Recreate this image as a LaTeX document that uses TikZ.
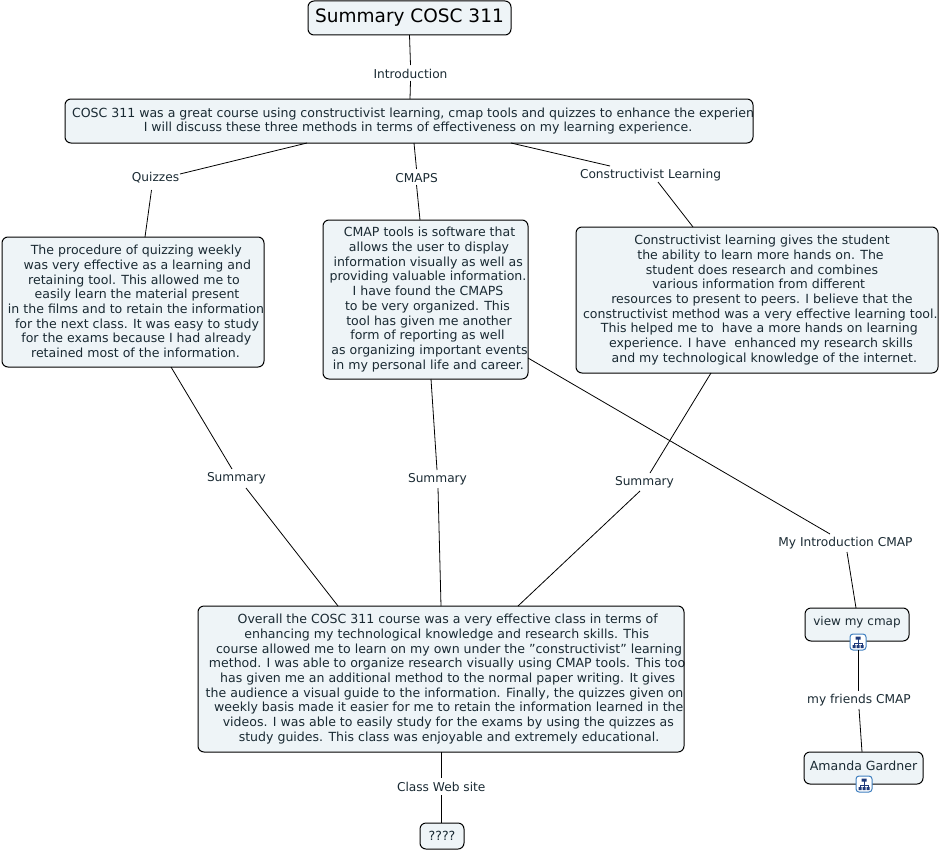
\documentclass[tikz,border=0pt]{standalone}
\usepackage{fontspec}
\setmainfont{DejaVu Sans}
\definecolor{boxfill}{HTML}{EEF4F7}
\definecolor{inkc}{HTML}{1A2A33}
\definecolor{iconb}{HTML}{3F7FBF}
\definecolor{iconn}{HTML}{1F3A7A}
\tikzset{
  cbox/.style={draw=black,fill=boxfill,rounded corners=6pt,line width=1pt,inner sep=0pt,outer sep=0pt},
  body/.style={text=inkc,font=\fontsize{12.55}{14.7}\selectfont,align=center,inner sep=0pt,outer sep=0pt,anchor=center},
  labt/.style={text=inkc,font=\fontsize{12.2}{14.6}\selectfont,inner sep=0pt,outer sep=0pt,anchor=west},
  labbox/.style={inner sep=0pt,outer sep=0pt,minimum height=16pt},
  conn/.style={line width=0.8pt,black},
  iconbox/.style={draw=iconb,fill=white,rounded corners=3pt,line width=1pt,minimum size=16pt,inner sep=0pt,outer sep=0pt},
}
\newcommand\off[1]{\hspace*{\dimexpr 2\dimexpr #1pt\relax\relax}}
% name, cx, cy, w, h, text dy(page up), dx, text
\newcommand\cbx[8]{\node[cbox,minimum width=#4pt,minimum height=#5pt,path picture={\node[body] at ([xshift=#7pt,yshift=#6pt]path picture bounding box.center) {#8};}] (#1) at (#2,#3) {};}
% name, cx, cy, w, text
\newcommand\lab[5]{\node[labbox,minimum width=#4pt,path picture={\node[labt] at ([yshift=-1pt]path picture bounding box.west) {#5};}] (#1) at (#2,#3) {};}
\newcommand\hierglyph[1]{\node[iconbox] (#1) at (\iconx,\icony) {};
  \draw[iconn,line width=0.9pt] ([yshift=4pt]#1.center) -- ([yshift=-4pt]#1.center)
    ([xshift=-4pt,yshift=-1pt]#1.center) -- ([xshift=4pt,yshift=-1pt]#1.center)
    ([xshift=-4pt,yshift=-1pt]#1.center) -- ([xshift=-4pt,yshift=-4pt]#1.center)
    ([xshift=4pt,yshift=-1pt]#1.center) -- ([xshift=4pt,yshift=-4pt]#1.center);
  \fill[iconn] ([xshift=-2.5pt,yshift=2.5pt]#1.center) rectangle ([xshift=2.5pt,yshift=5.5pt]#1.center)
    ([xshift=-5.5pt,yshift=-6pt]#1.center) rectangle ([xshift=-2.5pt,yshift=-3pt]#1.center)
    ([xshift=-1.5pt,yshift=-6pt]#1.center) rectangle ([xshift=1.5pt,yshift=-3pt]#1.center)
    ([xshift=2.5pt,yshift=-6pt]#1.center) rectangle ([xshift=5.5pt,yshift=-3pt]#1.center);}
\begin{document}
\begin{tikzpicture}[x=1pt,y=-1pt]
\useasboundingbox (0,0) rectangle (939,851);
\node[cbox,minimum width=203pt,minimum height=34pt] (title) at (409.5,18) {\fontsize{18.5}{20}\selectfont\color{black}Summary COSC 311};
\cbx{intro}{409}{121}{688}{44}{0}{0}{\makebox[674pt][l]{COSC 311 was a great course using constructivist learning, cmap tools and quizzes to enhance the experience.}\\\off{9}I will discuss these three methods in terms of effectiveness on my learning experience.}
\cbx{quiz}{133}{302}{262}{130}{0.5}{0}{\off{3.3}The procedure of quizzing weekly\\\off{4.3}was very effective as a learning and\\\off{1}retaining tool. This allowed me to\\\off{4}easily learn the material present\\\off{3}in the films and to retain the information\\\off{4}for the next class. It was easy to study\\\off{3.3}for the exams because I had already\\\off{2.5}retained most of the information.}
\cbx{cmap}{425.5}{299.5}{205}{159}{0}{0}{\off{4}CMAP tools is software that\\\off{3.5}allows the user to display\\\off{2.7}information visually as well as\\\off{2.5}providing valuable information.\\\off{2.5}I have found the CMAPS\\\off{2}to be very organized. This\\\off{3.5}tool has given me another\\\off{2}form of reporting as well\\\off{4}as organizing important events\\\off{2.8}in my personal life and career.}
\cbx{cons}{757}{300}{362}{146}{0}{0}{\off{5}Constructivist learning gives the student\\\off{3.5}the ability to learn more hands on. The\\\off{5}student does research and combines\\\off{1.7}various information from different\\\off{5}resources to present to peers. I believe that the\\\off{3.3}constructivist method was a very effective learning tool.\\\off{2.3}This helped me to\ \ have a more hands on learning\\\off{4}experience. I have\ \ enhanced my research skills\\\off{7.3}and my technological knowledge of the internet.}
\cbx{over}{441}{679}{486}{146}{0}{0}{\off{6.7}Overall the COSC 311 course was a very effective class in terms of\\\off{5.7}enhancing my technological knowledge and research skills. This\\\off{8}course allowed me to learn on my own under the "constructivist" learning\\\off{7.8}method. I was able to organize research visually using CMAP tools. This tool\\\off{6.7}has given me an additional method to the normal paper writing. It gives\\\off{9.4}the audience a visual guide to the information. Finally, the quizzes given on a\\\off{7.7}weekly basis made it easier for me to retain the information learned in the\\\off{7.3}videos. I was able to easily study for the exams by using the quizzes as\\\off{8}study guides. This class was enjoyable and extremely educational.}
\cbx{qq}{442}{836}{44}{26}{0}{0}{????}
\cbx{view}{857}{624.5}{104}{33}{2.5}{0}{\fontsize{12}{14}\selectfont view my cmap}
\cbx{amanda}{863.5}{768}{119}{32}{2.5}{0}{Amanda Gardner}
\def\iconx{858}\def\icony{642}\hierglyph{iconv}
\def\iconx{864}\def\icony{784}\hierglyph{icona}
\lab{lintro}{410.5}{73}{75}{Introduction}
\lab{lquiz}{155.5}{177}{49}{Quizzes}
\lab{lcmaps}{416.5}{177}{43}{CMAPS}
\lab{lcons}{650}{174}{140}{Constructivist Learning}
\lab{sa}{236}{477}{58}{Summary}
\lab{sb}{437}{478}{58}{Summary}
\lab{sc}{644}{481}{58}{Summary}
\lab{lmy}{845.5}{542}{135}{My Introduction CMAP}
\lab{lfr}{859}{699}{104}{my friends CMAP}
\lab{lweb}{441}{786}{88}{Class Web site}
\draw[conn] (title.south) -- (lintro.north);
\draw[conn] (lintro.south) -- ([xshift=1pt]intro.north);
\draw[conn] ([xshift=-102pt]intro.south) -- ([yshift=3pt]lquiz.east);
\draw[conn] ([xshift=-4pt,yshift=-5pt]lquiz.south) -- ([xshift=12pt]quiz.north);
\draw[conn] ([xshift=5pt]intro.south) -- (lcmaps.north);
\draw[conn] (lcmaps.south) -- ([xshift=-5.5pt]cmap.north);
\draw[conn] ([xshift=102pt]intro.south) -- ([xshift=-40pt]lcons.north);
\draw[conn] ([xshift=8pt]lcons.south) -- ([xshift=-64pt]cons.north);
\draw[conn] ([xshift=38pt]quiz.south) -- ([xshift=-4pt]sa.north);
\draw[conn] ([xshift=10pt,yshift=-3pt]sa.south) -- ([xshift=-103pt]over.north);
\draw[conn] ([xshift=5.5pt]cmap.south) -- (sb.north);
\draw[conn] ([xshift=1pt,yshift=-2pt]sb.south) -- (over.north);
\draw[conn] ([xshift=-46pt]cons.south) -- ([xshift=6pt]sc.north);
\draw[conn] ([xshift=-4pt,yshift=-2pt]sc.south) -- ([xshift=77pt]over.north);
\draw[conn] ([yshift=-58.5pt]cmap.east) -- ([xshift=-15.5pt]lmy.north);
\draw[conn] ([xshift=1.5pt,yshift=-2pt]lmy.south) -- ([xshift=-1pt]view.north);
\draw[conn] (iconv.south) -- ([xshift=-1pt]lfr.north);
\draw[conn] ([yshift=-2pt]lfr.south) -- ([xshift=-1.5pt]amanda.north);
\draw[conn] (over.south) -- (lweb.north);
\draw[conn] ([yshift=-1pt]lweb.south) -- ([xshift=-1pt]qq.north);
\end{tikzpicture}
\end{document}
